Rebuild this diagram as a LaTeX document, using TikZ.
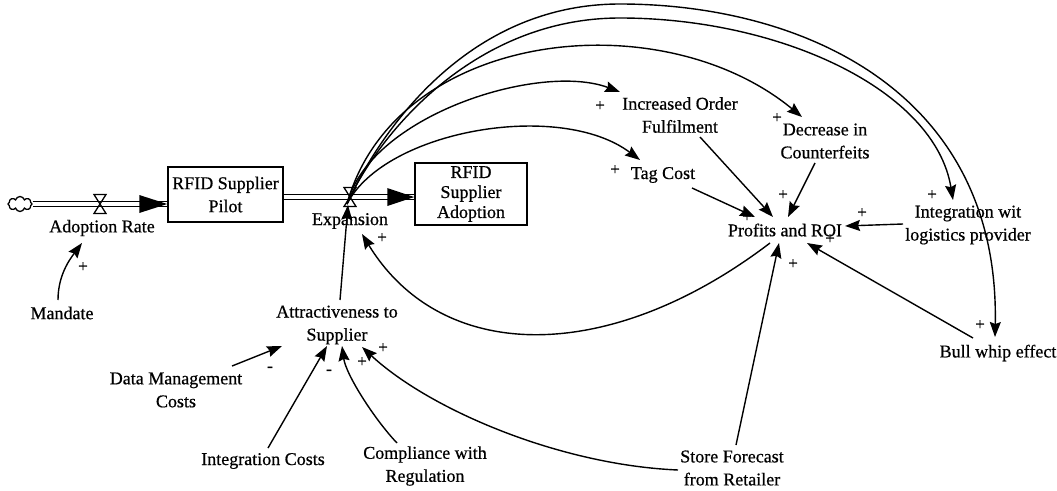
\documentclass[tikz,border=0pt]{standalone}
\usepackage{fontspec}
\setmainfont{Liberation Serif}[FakeBold=0.6]
\usetikzlibrary{arrows.meta,shapes.symbols,calc}

\tikzset{
  flowvalve/.pic={\draw[line width=1.3pt] (-6,-9.5) -- (6,-9.5) -- (-6,9.5) -- (6,9.5) -- cycle;},
}

\begin{document}
\begin{tikzpicture}[x=1pt,y=-1pt,
  lbl/.style={font=\fontsize{18}{23}\selectfont, align=center, inner sep=1pt},
  sgn/.style={font=\fontsize{17}{17}\selectfont, inner sep=0pt},
  stock/.style={draw, line width=1.5pt, inner sep=0pt, align=center, font=\fontsize{18}{23}\selectfont},
  link/.style={line width=1.4pt, -{Stealth[length=15pt,width=11pt,inset=2pt]}},
  pipe/.style={double, double distance=3.5pt, line width=1.2pt},
]
\useasboundingbox (0,0) rectangle (1057,490);

% stocks and source
\node[stock, minimum width=115pt, minimum height=55pt] (pilot) at (225.5,194.5) {RFID Supplier\\Pilot};
\node[stock, minimum width=112pt, minimum height=62pt, font=\fontsize{18}{20}\selectfont] (adopt) at (471,194) {RFID\\Supplier\\Adoption};
\node[cloud, draw, line width=1.3pt, cloud puffs=8, aspect=1.6, minimum width=24pt, minimum height=15pt, inner sep=0pt] (cloud) at (20,204) {};

\coordinate (valveA) at (100,204);
\coordinate (valveB) at (350,197);

% flows
\draw[pipe] (cloud.east) -- (pilot.west |- cloud.east);
\draw[pipe] (pilot.east |- valveB) -- (adopt.west |- valveB);
\pic at (valveA) {flowvalve};
\pic at (valveB) {flowvalve};
\fill (pilot.west |- valveA) -- ++(-28,-9) -- ++(0,18) -- cycle;
\fill (adopt.west |- valveB) -- ++(-27,-9) -- ++(0,18) -- cycle;

% variables
\node[lbl] (adrate) at (102,228) {Adoption Rate};
\node[lbl] (expan) at (350,221) {Expansion};
\node[lbl] (mandate) at (62,313) {Mandate};
\node[lbl] (attract) at (337,325) {Attractiveness to\\Supplier};
\node[lbl] (datam) at (176,390) {Data Management\\Costs};
\node[lbl] (intc) at (263,461) {Integration Costs};
\node[lbl] (compl) at (425,466) {Compliance with\\Regulation};
\node[lbl] (store) at (732,468) {Store Forecast\\from Retailer};
\node[lbl] (profits) at (785,230) {Profits and ROI};
\node[lbl] (tag) at (663,175) {Tag Cost};
\node[lbl] (incord) at (680,115) {Increased Order\\Fulfilment};
\node[lbl] (decr) at (825,141) {Decrease in\\Counterfeits};
\node[lbl] (integ) at (968,225) {Integration wit\\logistics provider};
\node[lbl] (bull) at (998,353) {Bull whip effect};

% polarity signs
\node[sgn] (s1) at (83,267) {+};
\node[sgn] (s2) at (382,238) {+};
\node[sgn] (s3) at (362,362) {+};
\node[sgn] (s4) at (383,348) {+};
\node[sgn] (s5) at (270,369) {-};
\node[sgn] (s6) at (329,372) {-};
\node[sgn] (s7) at (600,106) {+};
\node[sgn] (s8) at (615,170) {+};
\node[sgn] (s9) at (777,118) {+};
\node[sgn] (s10) at (932,195) {+};
\node[sgn] (s11) at (980,325) {+};
\node[sgn] (s12) at (783,195) {+};
\node[sgn] (s13) at (747,217) {+};
\node[sgn] (s14) at (862,213) {+};
\node[sgn] (s15) at (830,239) {+};
\node[sgn] (s16) at (793,264) {+};

% links
\draw[link] ([shift={(-4,-13)}]mandate.center) .. controls +(0,-25) and +(-12,16) .. ([shift={(-20,15)}]adrate.center);
\draw[link] ([shift={(3,-25)}]attract.center) -- ([shift={(-2,8)}]valveB);
\draw[link] ([shift={(56,-24)}]datam.center) -- ([shift={(-55,21)}]attract.center);
\draw[link] ([shift={(5,-13)}]intc.center) -- ([shift={(-10,21)}]attract.center);
\draw[link] ([shift={(-28,-23)}]compl.center) .. controls +(-22,-23) and +(4,29) .. ([shift={(5,21)}]attract.center);
\draw[link] ([shift={(-54,2)}]store.center) .. controls +(-118,-5) and +(68,63) .. ([shift={(25,22)}]attract.center);
\draw[link] ([shift={(4,-23)}]store.center) -- ([shift={(-6,13)}]profits.center);
\draw[link] ([shift={(-15,13)}]profits.center) .. controls +(-160,122) and +(80,131) .. ([shift={(12,13)}]expan.center);

% links leaving the expansion flow
\draw[link] ([shift={(-3,7)}]valveB) .. controls +(38,-74) and +(-80,-60) .. ([shift={(-23,-15)}]tag.center);
\draw[link] ([shift={(-3,7)}]valveB) .. controls +(23,-89) and +(-80,-30) .. ([shift={(-60,-23)}]incord.center);
\draw[link] ([shift={(-3,7)}]valveB) .. controls +(48,-174) and +(-142,-117) .. ([shift={(-23,-24)}]decr.center);
\draw[link] ([shift={(-3,7)}]valveB) .. controls +(28,-64) and +(-150,0) .. ++(273,-186)
   .. controls +(160,0) and +(-18,-110) .. ([shift={(-15,-25)}]integ.center);
\draw[link] ([shift={(-3,7)}]valveB) .. controls +(31,-69) and +(-155,0) .. ++(273,-200)
   .. controls +(180,0) and +(5,-247) .. ([shift={(-3,-16)}]bull.center);

% links into profits
\draw[link] ([shift={(29,13)}]tag.center) -- ([shift={(-30,-13)}]profits.center);
\draw[link] ([shift={(20,22)}]incord.center) -- ([shift={(-12,-13)}]profits.center);
\draw[link] ([shift={(-10,22)}]decr.center) -- ([shift={(3,-13)}]profits.center);
\draw[link] ([shift={(-65,-1)}]integ.center) -- ([shift={(60,-4)}]profits.center);
\draw[link] ([shift={(-25,-15)}]bull.center) -- ([shift={(22,13)}]profits.center);
\end{tikzpicture}
\end{document}
